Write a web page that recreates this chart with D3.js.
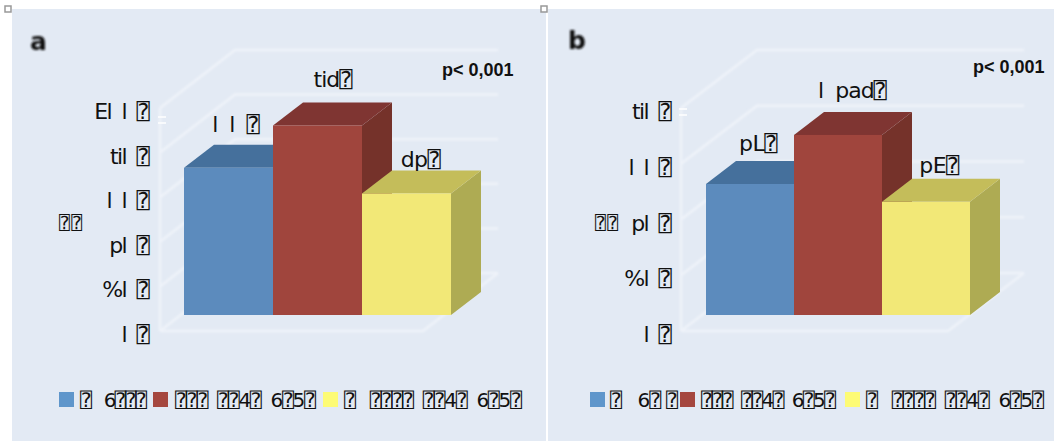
<!DOCTYPE html>
<html>
<head>
<meta charset="utf-8">
<script src="https://cdn.jsdelivr.net/npm/d3@7"></script>
<style>
html,body{margin:0;padding:0;background:#fff;overflow:hidden}
svg{display:block}
text{font-family:"DejaVu Sans","DejaVu Sans Mono",sans-serif;fill:#111;white-space:pre}
</style>
</head>
<body>
<script>
const WIDTH = 1054;
const HEIGHT = 441;
const T = '\u2370'; // boxed question mark, as in the reference labels

const categories = ['s1','s2','s3'];
const frontColors = ['#5b8bbd','#a0453e','#f2e877'];
const topColors = ['#44709c','#7f3530','#c4bd5a'];
const sideColors = ['#3d6690','#74302c','#aeab52'];
const legendColors = ['#5f96cb','#a5473f','#fdfb75'];

const valuesA = [66,85,54.5];
const ticksA = [0,20,40,60,80,100];
const tickLabelsA = ['l  '+T,'%l  '+T,'pl  '+T,'l  l  '+T,'til  '+T,'El  l  '+T];
const barLabelsA = ['l  l  '+T,'tid'+T,'dp'+T];
const legendA = [T+'   6'+T+T+T, T+T+T+'  '+T+T+'4'+T+'  6'+T+'5'+T, T+'   '+T+T+T+T+'  '+T+T+'4'+T+'  6'+T+'5'+T];

const valuesB = [47,64.6,40.6];
const ticksB = [0,20,40,60,80];
const tickLabelsB = ['l  '+T,'%l  '+T,'pl  '+T,'l  l  '+T,'til  '+T];
const barLabelsB = ['pL'+T,'l  pad'+T,'pE'+T];
const legendB = [T+'   6'+T+' '+T, T+T+T+'  '+T+T+'4'+T+'  6'+T+'5'+T, T+'   '+T+T+T+T+'  '+T+T+'4'+T+'  6'+T+'5'+T];

var svg = d3.select('body').append('svg').attr('width',WIDTH).attr('height',HEIGHT);

var defs = svg.append('defs');
defs.append('filter').attr('id','soft').append('feGaussianBlur').attr('stdDeviation',0.6);
defs.append('filter').attr('id','grid').append('feGaussianBlur').attr('stdDeviation',0.9);
defs.append('filter').attr('id','letter').append('feGaussianBlur').attr('stdDeviation',0.8);

var drawPanel = function(p){
	var g = svg.append('g');

	g.append('rect').attr('x',p.bgX).attr('y',9).attr('width',p.bgW).attr('height',HEIGHT-9).attr('fill','#e3eaf4');
	g.append('rect').attr('x',p.handleX).attr('y',6).attr('width',6).attr('height',6)
		.attr('fill','#fff').attr('stroke','#999').attr('stroke-width',1.5);

	g.append('text').attr('x',p.letterX).attr('y',p.letterY).attr('font-size',25).attr('font-weight','bold')
		.attr('filter','url(#letter)').text(p.letter);

	var wallY = d3.scaleLinear().domain([0,p.ticks[p.ticks.length-1]]).range([331,108]);
	var barY = d3.scaleLinear().domain([0,p.ticks[p.ticks.length-1]]).range([315,315-223]);
	var xScale = d3.scaleBand().domain(categories).range(p.barRange);

	// walls and floor
	var grid = g.append('g').attr('fill','none').attr('stroke','#eff3f9').attr('stroke-width',2.5).attr('filter','url(#grid)');
	var line = d3.line();
	p.ticks.forEach(function(t){
		var y = wallY(t);
		grid.append('path').attr('d',line([[p.wallX,y],[p.wallX+p.wallDx,y-58],[p.wallRight,y-58]]));
	});
	grid.append('path').attr('d',line([[p.wallX,wallY(0)],[p.wallX,wallY(p.ticks[p.ticks.length-1])]]));
	grid.append('path').attr('d',line([[p.wallX,wallY(0)],[p.wallRight-p.wallDx,wallY(0)],[p.wallRight,wallY(0)-58]]));
	g.append('path').attr('d',line([[p.wallX-2,p.dashY],[p.wallX+6,p.dashY]])).attr('stroke','#fff').attr('stroke-width',1.5);
	g.append('path').attr('d',line([[p.wallX-2,p.dashY+6],[p.wallX+6,p.dashY+6]])).attr('stroke','#fff').attr('stroke-width',1.5);

	// bars, back to front order is left to right here
	var bars = g.append('g').attr('filter','url(#soft)');
	categories.forEach(function(c,i){
		var x0 = xScale(c), x1 = x0+xScale.bandwidth(), yT = barY(p.values[i]), yB = barY(0);
		var dx = 30, dy = -23;
		bars.append('path').attr('fill',sideColors[i])
			.attr('d',line([[x1,yT],[x1+dx,yT+dy],[x1+dx,yB+dy],[x1,yB]])+'Z');
		bars.append('path').attr('fill',topColors[i])
			.attr('d',line([[x0,yT],[x0+dx,yT+dy],[x1+dx,yT+dy],[x1,yT]])+'Z');
		bars.append('rect').attr('x',x0).attr('y',yT).attr('width',x1-x0).attr('height',yB-yT).attr('fill',frontColors[i]);
	});

	// bar labels
	categories.forEach(function(c,i){
		g.append('text').attr('text-anchor','middle').attr('font-size',22)
			.attr('letter-spacing',p.labelSpacing[i])
			.attr('x',xScale(c)+xScale.bandwidth()/2+p.labelDx[i])
			.attr('y',barY(p.values[i])+p.labelDy[i])
			.text(p.barLabels[i]);
	});

	// y axis
	var yAxis = d3.axisLeft(wallY).tickValues(p.ticks).tickSize(0).tickPadding(0)
		.tickFormat(function(d,i){return p.tickLabels[i]});
	var ax = g.append('g').attr('transform','translate('+p.axisX+',3.5)').call(yAxis);
	ax.select('.domain').remove();
	ax.selectAll('text').attr('font-size',22).attr('font-family','"DejaVu Sans","DejaVu Sans Mono"').attr('fill','#111').attr('letter-spacing',-1.7);

	g.append('text').attr('x',p.titleX).attr('y',p.titleY).attr('font-size',18).attr('textLength',23)
		.attr('lengthAdjust','spacing').text(T+T);

	g.append('text').attr('x',p.pX).attr('y',p.pY).attr('font-size',18).attr('font-weight','bold')
		.style('font-family','"Liberation Sans"').attr('fill','#111').text('p< 0,001');

	// legend
	p.legend.forEach(function(s,i){
		g.append('rect').attr('x',p.swatchX[i]).attr('y',392).attr('width',15).attr('height',15).attr('fill',legendColors[i]);
		g.append('text').attr('x',p.legendX[i]).attr('y',407).attr('font-size',20)
			.attr('textLength',p.legendW[i]).attr('lengthAdjust','spacing').text(s);
	});
};

drawPanel({
	letter:'a',letterX:30,letterY:50,bgX:12,bgW:534,handleX:5,
	ticks:ticksA,tickLabels:tickLabelsA,values:valuesA,barLabels:barLabelsA,legend:legendA,
	barRange:[184,451],wallX:160,wallDx:75,wallRight:498,dashY:117,axisX:148,
	labelDx:[7,15,14],labelDy:[-36,-38,-26],labelSpacing:[-1,-1,-0.5],
	titleX:59,titleY:229,pX:442,pY:76,
	swatchX:[59,153,323],legendX:[80,175,344],legendW:[67,141,178]
});

drawPanel({
	letter:'b',letterX:568,letterY:49,bgX:548,bgW:506,handleX:541,
	ticks:ticksB,tickLabels:tickLabelsB,values:valuesB,barLabels:barLabelsB,legend:legendB,
	barRange:[706,970],wallX:681,wallDx:76,wallRight:1024,dashY:109,axisX:670,
	labelDx:[8,14,13],labelDy:[-33,-37,-29],labelSpacing:[-0.5,-1,-0.5],
	titleX:595,titleY:229,pX:973,pY:73,
	swatchX:[590,680,845],legendX:[610,701,866],legendW:[68,135,178]
});
</script>
</body>
</html>
